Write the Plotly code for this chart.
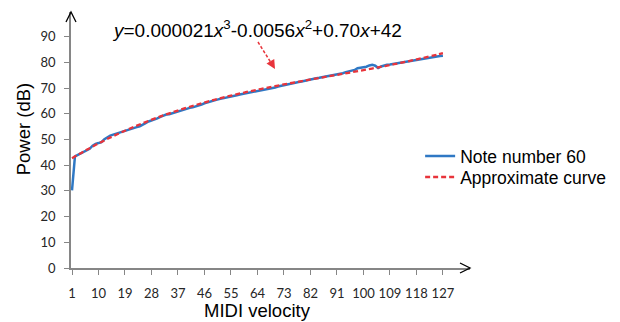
import plotly.graph_objects as go

velocity = list(range(1, 128))
note60_power = [
    30.2, 43.4, 44.0, 44.6, 45.3, 46.0, 46.4, 47.6, 48.3, 48.6,
    49.0, 50.1, 50.9, 51.5, 51.9, 52.3, 52.6, 52.9, 53.3, 53.6,
    54.0, 54.4, 54.8, 55.1, 55.6, 56.4, 57.0, 57.3, 57.7, 58.2,
    58.8, 59.4, 59.7, 59.8, 60.2, 60.6, 61.0, 61.3, 61.7, 62.0,
    62.3, 62.5, 62.8, 63.2, 63.6, 64.1, 64.5, 64.8, 65.1, 65.4,
    65.7, 66.0, 66.3, 66.5, 66.8, 67.0, 67.2, 67.5, 67.7, 68.0,
    68.2, 68.4, 68.6, 68.8, 69.0, 69.2, 69.4, 69.5, 69.7, 70.2,
    70.6, 70.9, 71.1, 71.4, 71.6, 71.9, 72.2, 72.4, 72.6, 72.9,
    73.1, 73.3, 73.5, 73.8, 74.0, 74.2, 74.4, 74.6, 74.8, 75.0,
    75.3, 75.6, 75.8, 76.2, 76.6, 76.8, 77.0, 77.7, 77.9, 78.0,
    78.3, 78.8, 79.1, 78.7, 77.8, 78.4, 78.9, 79.1, 79.2, 79.4,
    79.6, 79.8, 80.0, 80.3, 80.6, 80.8, 80.9, 81.1, 81.3, 81.5,
    81.7, 81.9, 82.1, 82.3, 82.4, 82.5, 82.6,
]

approx_x = [1, 5, 10, 15, 20, 25, 30, 35, 40, 45, 50, 55, 60, 65, 70,
            75, 80, 85, 90, 95, 100, 105, 110, 115, 120, 125, 127]
approx_y = [42.69, 45.36, 48.46, 51.31, 53.93, 56.33, 58.53, 60.54, 62.38,
            64.07, 65.63, 67.05, 68.38, 69.61, 70.76, 71.86, 72.91, 73.94,
            74.95, 75.96, 77.00, 78.07, 79.19, 80.38, 81.65, 83.02, 83.60]

x_ticks = list(range(1, 128, 9))
y_ticks = list(range(0, 91, 10))

series_names = ["Note number 60", "Approximate curve"]
equation = "<i>y</i>=0.000021<i>x</i><sup>3</sup>-0.0056<i>x</i><sup>2</sup>+0.70<i>x</i>+42"
x_title = "MIDI velocity"
y_title = "Power (dB)"

fig = go.Figure()
fig.add_trace(go.Scatter(
    x=velocity, y=note60_power, mode="lines", name=series_names[0],
    line=dict(color="#2F78C4", width=2.5), legend="legend",
))
fig.add_trace(go.Scatter(
    x=approx_x, y=approx_y, mode="lines", name=series_names[1],
    line=dict(color="#E8343B", width=2.3, dash="5px,3px", shape="spline"), legend="legend2",
))

axis_col = "#868686"
tick_font = dict(family="Lato, Liberation Sans, sans-serif", size=13, color="#262626")
legend_font = dict(family="Liberation Sans, Arial, sans-serif", size=17.5, color="#000000")

fig.update_layout(
    width=620, height=322,
    margin=dict(l=71, r=150, t=12, b=54, autoexpand=False),
    paper_bgcolor="white", plot_bgcolor="white",
    showlegend=True,
    legend=dict(x=0.875, xanchor="left", y=0.4375, yanchor="middle", font=legend_font,
                bgcolor="rgba(0,0,0,0)", itemwidth=30),
    legend2=dict(x=0.875, xanchor="left", y=0.355, yanchor="middle", font=legend_font,
                 bgcolor="rgba(0,0,0,0)", itemwidth=30),
    xaxis=dict(range=[0.66, 136.2], tickvals=x_ticks, ticktext=[str(v) for v in x_ticks],
               showgrid=False, zeroline=False, showline=True, linecolor=axis_col, linewidth=1.5,
               ticks="outside", ticklen=5, tickcolor=axis_col, tickwidth=1,
               tickfont=tick_font, ticklabelstandoff=8),
    yaxis=dict(range=[0, 99.6], tickvals=y_ticks, showgrid=False, zeroline=False,
               showline=True, linecolor=axis_col, linewidth=1.5,
               ticks="outside", ticklen=5, tickcolor=axis_col, tickwidth=1,
               tickfont=tick_font, ticklabelstandoff=6),
)

# axis arrowheads
fig.add_shape(type="path", xref="paper", yref="paper", xsizemode="pixel", ysizemode="pixel",
              xanchor=1, yanchor=0, path="M-10,5 L0,0 L-10,-5",
              line=dict(color="#000000", width=1.3))
fig.add_shape(type="path", xref="paper", yref="paper", xsizemode="pixel", ysizemode="pixel",
              xanchor=0, yanchor=1, path="M-5,-10 L0,0 L5,-10",
              line=dict(color="#000000", width=1.3))

title_font = dict(family="Liberation Sans, Arial, sans-serif", size=18.5, color="#000000")
fig.add_annotation(text=x_title, xref="x", yref="paper", x=64, y=-0.117, yanchor="top",
                   xanchor="center", showarrow=False, font=title_font)
fig.add_annotation(text=y_title, xref="paper", yref="y", x=-0.120, y=54, textangle=-90,
                   xanchor="center", yanchor="middle", showarrow=False, font=title_font)
fig.add_annotation(text=equation, xref="paper", yref="paper", x=0.097, y=0.935,
                   xanchor="left", yanchor="middle", showarrow=False,
                   font=dict(family="Liberation Sans, Arial, sans-serif", size=19, color="#000000"))

# dashed pointer arrow from equation to curve
px0, py0, px1, py1 = 258, 42, 273, 66
to_paper = lambda px, py: ((px - 71) / 399, (268 - py) / 256)
a0 = to_paper(px0, py0)
a1 = to_paper(px1, py1)
fig.add_shape(type="line", xref="paper", yref="paper", x0=a0[0], y0=a0[1], x1=a1[0], y1=a1[1],
              line=dict(color="#E8343B", width=1.5, dash="3px,2px"))
a2 = to_paper(px1 + 2, py1 + 3)
fig.add_annotation(xref="paper", yref="paper", x=a2[0], y=a2[1], ax=-3, ay=-5, text="",
                   showarrow=True, arrowhead=2, arrowsize=1.2, arrowwidth=1.5,
                   arrowcolor="#E8343B", standoff=0)

fig.write_html("out.html", config={"displayModeBar": False},
               post_script="document.body.style.margin='0';document.body.style.padding='0';")
